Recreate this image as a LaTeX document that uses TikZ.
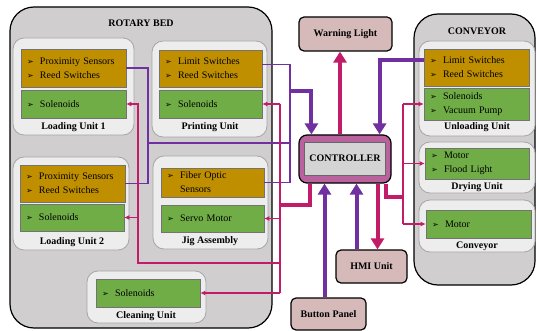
\documentclass[tikz,border=0pt]{standalone}
\usepackage{fontspec}
\setmainfont{Liberation Serif}
\newfontfamily\dingfont{DejaVu Sans}
\usetikzlibrary{arrows.meta}

\definecolor{sensc}{RGB}{191,143,0}
\definecolor{actc}{RGB}{112,173,71}
\definecolor{bedc}{RGB}{208,206,206}
\definecolor{unitc}{RGB}{237,237,237}
\definecolor{sigc}{RGB}{112,48,160}
\definecolor{outc}{RGB}{194,28,104}
\definecolor{ioc}{RGB}{214,186,186}
\definecolor{ctlc}{RGB}{186,98,158}
\newcommand{\itm}[1]{\makebox[13pt][l]{\dingfont\footnotesize ➢}#1}

\begin{document}
\begin{tikzpicture}[x=1pt, y=-1pt, font=\fontsize{10}{14}\selectfont,
  grp/.style={draw, line width=1.2pt, rounded corners=24pt, fill=bedc},
  unit/.style={draw=black!35, line width=0.8pt, rounded corners=11pt, fill=unitc},
  item/.style={draw=black!55, line width=0.6pt, inner xsep=6pt, inner ysep=0pt, align=left},
  sens/.style={item, fill=sensc},
  act/.style={item, fill=actc},
  lbl/.style={font=\fontsize{10}{12}\selectfont\bfseries, inner sep=0pt},
  io/.style={draw, line width=1.2pt, rounded corners=5pt, fill=ioc, font=\fontsize{10}{12}\selectfont\bfseries},
  sig/.style={sigc, line width=1.1pt},
  outl/.style={outc, line width=1.1pt},
  outa/.style={outl, -{Latex[length=5pt,width=5pt]}},
  sigbus/.style={sigc, line width=4pt},
  outbus/.style={outc, line width=4pt},
  big/.style={-{Triangle[length=11pt,width=13pt]}}]
\useasboundingbox (0,0) rectangle (537,331);

% rotary bed
\node[grp, minimum width=262pt, minimum height=321pt] (bed) at (141,167.5) {};
\node[lbl] (bedt) at (141,23) {ROTARY BED};

\node[unit, minimum width=121pt, minimum height=97pt] (lu1) at (73.5,86.5) {};
\node[sens, text width=93pt, minimum height=38pt] (lu1s) at (73.5,68) {\itm{Proximity Sensors}\\\itm{Reed Switches}};
\node[act, text width=93pt, minimum height=28pt] (lu1a) at (73.5,104) {\itm{Solenoids}};
\node[lbl] (lu1t) at (73.5,127) {Loading Unit 1};

\node[unit, minimum width=115pt, minimum height=96pt] (pu) at (209.5,89) {};
\node[sens, text width=91pt, minimum height=37pt] (pus) at (210.5,68.5) {\itm{Limit Switches}\\\itm{Reed Switches}};
\node[act, text width=91pt, minimum height=28pt] (pua) at (210.5,104) {\itm{Solenoids}};
\node[lbl] (put) at (210,127) {Printing Unit};

\node[unit, minimum width=116pt, minimum height=93pt] (lu2) at (71,203.5) {};
\node[sens, text width=93pt, minimum height=37pt] (lu2s) at (72.5,183.5) {\itm{Proximity Sensors}\\\itm{Reed Switches}};
\node[act, text width=92pt, minimum height=27pt] (lu2a) at (72,217.5) {\itm{Solenoids}};
\node[lbl] (lu2t) at (72,242) {Loading Unit 2};

\node[unit, minimum width=115pt, minimum height=93pt] (ja) at (210.5,202.5) {};
\node[sens, text width=91pt, minimum height=29pt] (jas) at (212.5,182.5) {\itm{Fiber Optic}\\\hspace*{13pt}Sensors};
\node[act, text width=91pt, minimum height=27pt] (jaa) at (212.5,218.5) {\itm{Servo Motor}};
\node[lbl] (jat) at (210,241) {Jig Assembly};

\node[unit, minimum width=119pt, minimum height=52pt] (cu) at (146.5,297) {};
\node[act, text width=92pt, minimum height=28pt] (cua) at (148,293) {\itm{Solenoids}};
\node[lbl] (cut) at (146,316) {Cleaning Unit};

% conveyor side
\node[grp, minimum width=121pt, minimum height=271pt] (conv) at (474.5,149.5) {};
\node[lbl] (convt) at (477,31) {CONVEYOR};

\node[unit, minimum width=116pt, minimum height=95pt] (uu) at (477,88.5) {};
\node[sens, text width=93pt, minimum height=37pt] (uus) at (476.5,67.5) {\itm{Limit Switches}\\\itm{Reed Switches}};
\node[act, text width=93pt, minimum height=32pt] (uua) at (476.5,104) {\itm{Solenoids}\\\itm{Vacuum Pump}};
\node[lbl] (uut) at (477,127) {Unloading Unit};

\node[unit, minimum width=116pt, minimum height=51pt] (du) at (477,167.5) {};
\node[act, text width=92pt, minimum height=31pt] (dua) at (477,163.5) {\itm{Motor}\\\itm{Flood Light}};
\node[lbl] (dut) at (477,187) {Drying Unit};

\node[unit, minimum width=116pt, minimum height=52pt] (cv) at (477,226) {};
\node[act, text width=93pt, minimum height=28pt] (cva) at (478.5,224) {\itm{Motor}};
\node[lbl] (cvt) at (477,246) {Conveyor};

% controller and i/o
\node[io, minimum width=93pt, minimum height=34pt] (wl) at (345.5,34) {Warning Light};
\node[io, fill=ctlc, rounded corners=8pt, minimum width=92pt, minimum height=48pt] (ctl) at (345,159) {};
\node[draw=black!60, fill=black!17, font=\fontsize{10}{12}\selectfont\bfseries, minimum width=81pt, minimum height=33pt] (ctli) at (345,158.5) {CONTROLLER};
\node[io, minimum width=71pt, minimum height=33pt] (hmi) at (371.5,266.5) {HMI Unit};
\node[io, minimum width=75pt, minimum height=32pt] (bp) at (328.5,314) {Button Panel};

% sensor lines
\coordinate (sL) at (148,143);
\coordinate (sR) at (290,143);
\coordinate (sT) at (290,91);
\draw[sig] (lu1s.east) -| (sL);
\draw[sig] (lu2s.east) -| (sL) -- (sR);
\draw[sig] ([yshift=4pt]pus.east) -| (sR);
\draw[sig] (jas.east) -| (sR);
\draw[sigbus, big] (sT) -| ([xshift=13pt]ctl.north west);
\draw[sigbus, big] ([yshift=7pt]uus.west) -| ([xshift=-12pt]ctl.north east);
\draw[sigbus, big] ([xshift=-4pt]bp.north) -- ([xshift=-4pt]bp.north |- ctl.south);
\draw[sigbus, big] ([xshift=-15pt]hmi.north) -- ([xshift=-15pt]hmi.north |- ctl.south);

% output lines
\draw[outbus, big] ([xshift=-5pt]ctl.north) -- ([xshift=-5pt]ctl.north |- wl.south);
\draw[outbus, big] ([xshift=6pt]hmi.north |- ctl.south) -- ([xshift=6pt]hmi.north);

\coordinate (aT) at (280,205);
\coordinate (aU) at (280,104);
\coordinate (aB) at (280,263);
\coordinate (aL) at (138,263);
\draw[outbus] ([xshift=12pt]ctl.south west) |- (aT);
\draw[outl] (aU) -- (aU |- cua.east);
\draw[outa] (aU) -- (pua.east);
\draw[outa] (aU |- jaa.east) -- (jaa.east);
\draw[outa] (aU |- cua.east) -- (cua.east);
\draw[outa] (aB) -- (aL) |- (lu1a.east);
\draw[outa] (aL |- lu2a.east) -- (lu2a.east);

\coordinate (rB) at (403,197);
\coordinate (rU) at (403,104);
\draw[outbus] ([xshift=-6pt]ctl.south east) |- (rB);
\draw[outl] (rU) -- (rU |- cva.west);
\draw[outa] (rU) -- (uua.west);
\draw[outa] (rU |- dua.west) -- (dua.west);
\draw[outa] (rU |- cva.west) -- (cva.west);
\end{tikzpicture}
\end{document}
